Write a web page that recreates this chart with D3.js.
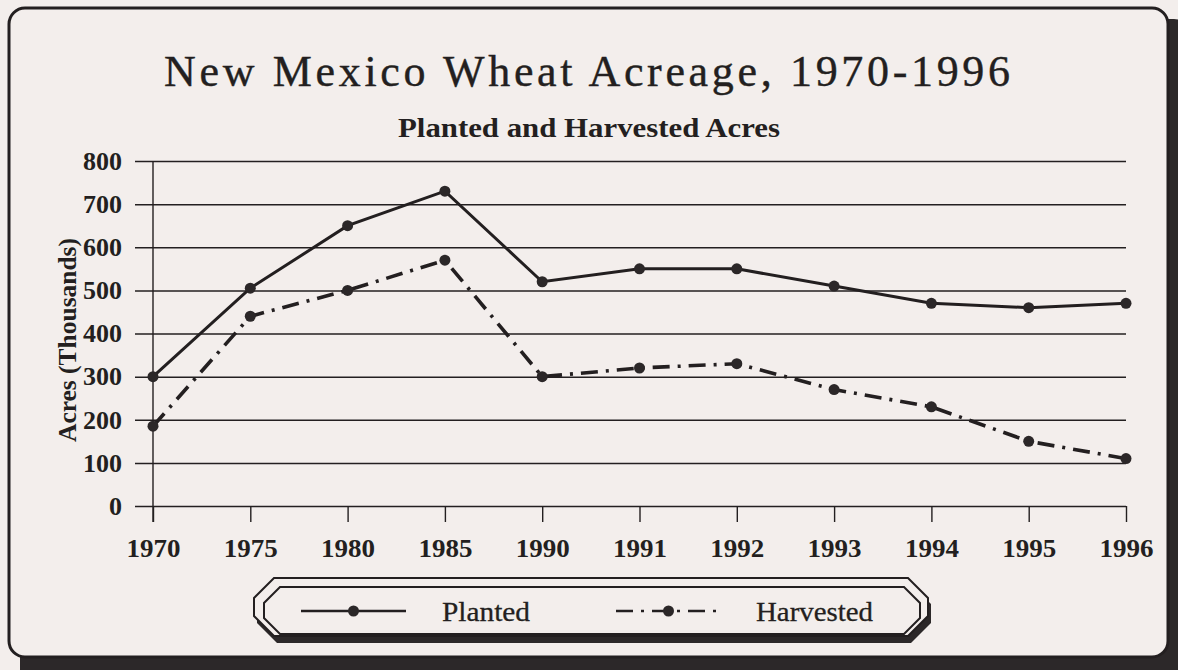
<!DOCTYPE html>
<html>
<head>
<meta charset="utf-8">
<script src="https://cdn.jsdelivr.net/npm/d3@7"></script>
<style>
  html, body { margin: 0; padding: 0; background: #f3eeec; }
  svg { display: block; }
  text { font-family: "Liberation Serif", "Times New Roman", serif; fill: #231f20; }
</style>
</head>
<body>
<svg id="chart" width="1178" height="670"></svg>
<script>
const years = ["1970","1975","1980","1985","1990","1991","1992","1993","1994","1995","1996"];
const planted = [300, 505, 650, 730, 520, 550, 550, 510, 470, 460, 470];
const harvested = [185, 440, 500, 570, 300, 320, 330, 270, 230, 150, 110];
const yTicks = [0, 100, 200, 300, 400, 500, 600, 700, 800];
const seriesNames = ["Planted", "Harvested"];
const titleText = "New Mexico Wheat Acreage, 1970-1996";
const subtitleText = "Planted and Harvested Acres";
const yTitle = "Acres (Thousands)";

const ink = "#231f20";
const bg = "#f3eeec";
const shadow = "#2c2829";
const serif = "'Liberation Serif', 'Times New Roman', serif";

const svg = d3.select("#chart");

// frame with shadow
svg.append("rect").attr("x", 20).attr("y", 19).attr("width", 1170).attr("height", 670)
  .attr("rx", 16).attr("fill", shadow);
svg.append("rect").attr("x", 9).attr("y", 8).attr("width", 1159).attr("height", 649)
  .attr("rx", 16).attr("fill", bg).attr("stroke", ink).attr("stroke-width", 3);

// titles
svg.append("text").attr("x", 164).attr("y", 86)
  .attr("font-size", 44).attr("textLength", 846).attr("lengthAdjust", "spacing")
  .attr("stroke", ink).attr("stroke-width", 0.4)
  .text(titleText);
svg.append("text").attr("x", 398).attr("y", 137)
  .attr("font-size", 28).attr("font-weight", "bold")
  .attr("textLength", 382).attr("lengthAdjust", "spacingAndGlyphs")
  .text(subtitleText);

// scales
const x = d3.scalePoint().domain(years).range([153, 1126]);
const y = d3.scaleLinear().domain([0, 800]).range([506, 161]);

// y axis gridlines + labels
const yAxis = svg.append("g").attr("transform", "translate(135,0)")
  .call(d3.axisLeft(y).tickValues(yTicks).tickSize(-991).tickPadding(13));
yAxis.select(".domain").remove();
yAxis.selectAll(".tick line").attr("stroke", ink).attr("stroke-width", 1.5);
yAxis.selectAll(".tick text").attr("font-size", 26).attr("font-weight", "bold")
  .attr("font-family", serif).attr("fill", ink);

// vertical axis line
svg.append("line").attr("x1", x(years[0])).attr("x2", x(years[0]))
  .attr("y1", y(800)).attr("y2", y(0) + 16).attr("stroke", ink).attr("stroke-width", 1.4);

// x axis
const xAxis = svg.append("g").attr("transform", `translate(0,${y(0)})`)
  .call(d3.axisBottom(x).tickSize(16).tickPadding(17));
xAxis.select(".domain").remove();
xAxis.selectAll(".tick line").attr("stroke", ink).attr("stroke-width", 1.4);
xAxis.selectAll(".tick text").attr("font-size", 26).attr("font-weight", "bold")
  .attr("font-family", serif).attr("fill", ink)
  .attr("textLength", 54).attr("lengthAdjust", "spacingAndGlyphs");

// y title
svg.append("text").attr("transform", "translate(76,340) rotate(-90)")
  .attr("text-anchor", "middle").attr("font-size", 26).attr("font-weight", "bold")
  .attr("textLength", 204).attr("lengthAdjust", "spacingAndGlyphs")
  .text(yTitle);

// lines
const line = d3.line().x((d, i) => x(years[i])).y(d => y(d));
const dashes = [null, "17,8,3,8"];
[planted, harvested].forEach((vals, k) => {
  svg.append("path").datum(vals).attr("d", line)
    .attr("fill", "none").attr("stroke", ink).attr("stroke-width", k === 0 ? 3 : 3.6)
    .attr("stroke-dasharray", dashes[k]);
  svg.selectAll(null).data(vals).enter().append("circle")
    .attr("cx", (d, i) => x(years[i])).attr("cy", d => y(d)).attr("r", 5.5)
    .attr("fill", "#2b2728");
});

// legend box
const L = 254, R = 928, T = 578, B = 636, c = 20;
const oct = (l, r, t, b, c) => [[l + c, t], [r - c, t], [r, t + c], [r, b - c], [r - c, b], [l + c, b], [l, b - c], [l, t + c]];
const poly = d3.line().curve(d3.curveLinearClosed);
svg.append("path").attr("d", poly(oct(L + 3, R + 3, T + 6, B + 7, c))).attr("fill", shadow);
svg.append("path").attr("d", poly(oct(L, R, T, B, c))).attr("fill", bg)
  .attr("stroke", ink).attr("stroke-width", 2);
svg.append("path").attr("d", poly(oct(L + 10, R - 8, T + 9, B - 2, c - 4))).attr("fill", "none")
  .attr("stroke", ink).attr("stroke-width", 2);

const legendItems = [
  { x1: 301, x2: 406, tx: 442, tw: 88, dash: null },
  { x1: 616, x2: 721, tx: 756, tw: 117, dash: "17,8,3,8" }
];
const ly = 611;
legendItems.forEach((it, k) => {
  svg.append("line").attr("x1", it.x1).attr("x2", it.x2).attr("y1", ly).attr("y2", ly)
    .attr("stroke", ink).attr("stroke-width", 2.6).attr("stroke-dasharray", it.dash);
  svg.append("circle").attr("cx", (it.x1 + it.x2) / 2).attr("cy", ly).attr("r", 5.5).attr("fill", "#2b2728");
  svg.append("text").attr("x", it.tx).attr("y", ly + 10).attr("font-size", 28)
    .attr("stroke", ink).attr("stroke-width", 0.3)
    .attr("textLength", it.tw).attr("lengthAdjust", "spacingAndGlyphs")
    .text(seriesNames[k]);
});
</script>
</body>
</html>
